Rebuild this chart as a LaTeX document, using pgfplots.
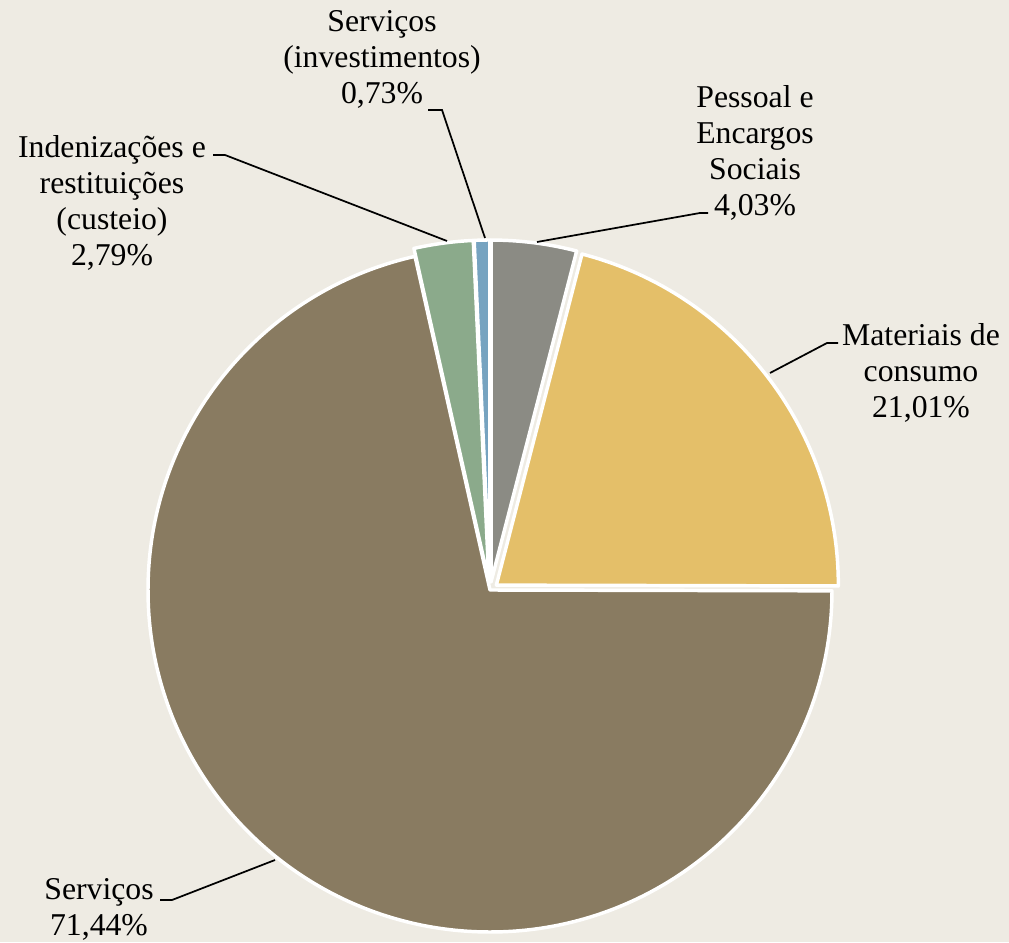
\documentclass[border=0pt]{standalone}
\usepackage{pgfplots}
\pgfplotsset{compat=1.18}
\usepackage{fontspec}
\setmainfont{Liberation Serif}

\definecolor{bgc}{HTML}{EEEBE3}
\definecolor{cPes}{HTML}{8B8B84}
\definecolor{cMat}{HTML}{E4BF69}
\definecolor{cSer}{HTML}{897B61}
\definecolor{cInd}{HTML}{8BAA8B}
\definecolor{cInv}{HTML}{76A3C0}

\tikzset{lbl/.style={font=\fontsize{23.8}{27}\selectfont, align=center, inner sep=0pt, anchor=north}}

% one slice: #1 cumulative share before it (%), #2 share (%), #3 colour, #4 explode (px)
\newcommand\slice[4]{%
  \pgfmathsetmacro\aS{90-3.6*#1}%
  \pgfmathsetmacro\aE{90-3.6*(#1+#2)}%
  \pgfmathsetmacro\aM{(\aS+\aE)/2}%
  \pgfmathsetmacro\cx{490+#4*cos(\aM)}%
  \pgfmathsetmacro\cy{352+#4*sin(\aM)}%
  \edef\temp{\noexpand\filldraw[fill=#3, draw=white, line width=2.6pt, line join=round]
    (axis cs:\cx,\cy) -- ++(\aS:256.5pt) arc[start angle=\aS, end angle=\aE, radius=256.5pt] -- cycle;}%
  \temp}

\begin{document}
\begin{tikzpicture}
\begin{axis}[
    x=0.75pt, y=0.75pt,
    xmin=0, xmax=1009, ymin=0, ymax=942,
    hide axis, clip=false,
  ]
  \fill[bgc] (axis cs:0,0) rectangle (axis cs:1009,942);

  % shares: Pessoal 4.03, Materiais 21.01, Servicos 71.44, Indenizacoes 2.79, Serv. invest. 0.73
  \slice{25.04}{71.44}{cSer}{0}
  \slice{0}{4.03}{cPes}{8}
  \slice{4.03}{21.01}{cMat}{8}
  \slice{96.48}{2.79}{cInd}{8}
  \slice{99.27}{0.73}{cInv}{8}

  \draw[line width=1.3pt] (axis cs:428,832) -- (axis cs:442,832) -- (axis cs:485,704);
  \draw[line width=1.3pt] (axis cs:213,787) -- (axis cs:225,787) -- (axis cs:447,701);
  \draw[line width=1.3pt] (axis cs:537,700) -- (axis cs:700,729) -- (axis cs:708,729);
  \draw[line width=1.3pt] (axis cs:770,569) -- (axis cs:827,599) -- (axis cs:838,599);
  \draw[line width=1.3pt] (axis cs:275,82) -- (axis cs:172,42) -- (axis cs:160,42);

  \node[lbl] at (axis cs:382,932) {Serviços\\(investimentos)\\0,73\%};
  \node[lbl] at (axis cs:112,807) {Indenizações e\\restituições\\(custeio)\\2,79\%};
  \node[lbl] at (axis cs:755,857) {Pessoal e\\Encargos\\Sociais\\4,03\%};
  \node[lbl] at (axis cs:921,619) {Materiais de\\consumo\\21,01\%};
  \node[lbl] at (axis cs:99,64) {Serviços\\71,44\%};
\end{axis}
\pgfresetboundingbox
\path (current axis.south west) rectangle (current axis.north east);
\end{tikzpicture}
\end{document}
